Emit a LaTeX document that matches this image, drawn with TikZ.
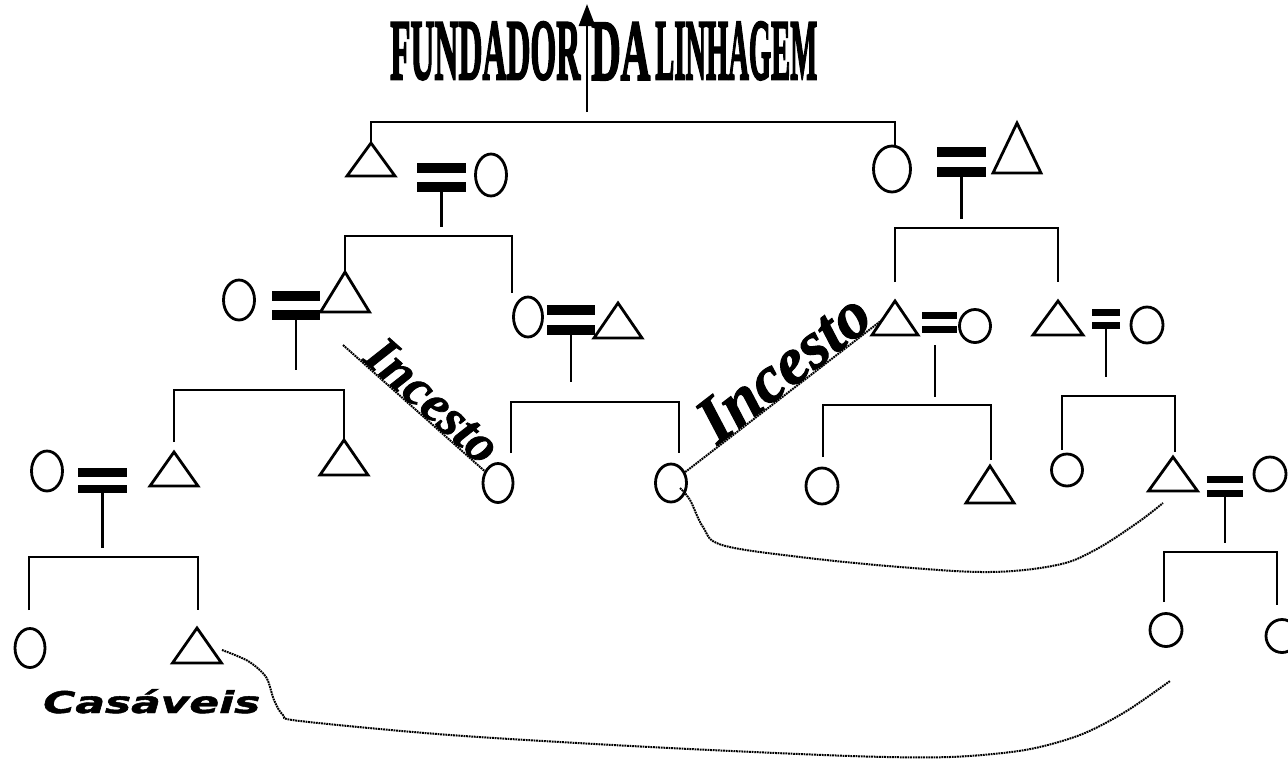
\documentclass[tikz,border=0pt]{standalone}
\usepackage{fontspec}
\usepackage{graphicx}
\setmainfont{Liberation Serif}
\newfontfamily\titlefont{Liberation Serif}[BoldFeatures={FakeBold=3}]
\newfontfamily\incfont{Liberation Serif}[BoldItalicFeatures={FakeBold=1.5}]
\newfontfamily\casfont{DejaVu Sans}[BoldItalicFeatures={FakeBold=1.5}]
\usetikzlibrary{shapes.geometric,arrows.meta}
\tikzset{
  ln/.style={line width=2.8pt},
  circ/.style={ellipse, draw, line width=2.8pt, inner sep=0pt},
  bar/.style={rectangle, fill=black, draw=none, inner sep=0pt},
  dots/.style={line width=2pt, dash pattern=on 1.8pt off 0.8pt},
}
\newcommand\kinTri[4]{\coordinate (#1) at (#2);
  \draw[ln, line join=miter] (#1) -- ++({#3/2},#4) -- ++(-#3,0) -- cycle;}
\newcommand\kinEq[7]{%
  \node[bar, minimum width={#3-#2}, minimum height={#5-#4}] (#1a) at ({(#2+#3)/2},{(#4+#5)/2}) {};
  \node[bar, minimum width={#3-#2}, minimum height={#7-#6}] (#1b) at ({(#2+#3)/2},{(#6+#7)/2}) {};}
\begin{document}
\begin{tikzpicture}[x=1pt,y=-1pt]
\useasboundingbox (0,0) rectangle (1288,769);
\clip (0,0) rectangle (1288,769);
% ---------- title
\node[anchor=south west, inner sep=0pt] (ti1) at (390,80) {\resizebox{190pt}{57pt}{\titlefont\bfseries FUNDADOR}};
\node[anchor=south west, inner sep=0pt] (ti2) at (591,80) {\resizebox{59pt}{57pt}{\titlefont\bfseries DA}};
\node[anchor=south west, inner sep=0pt] (ti3) at (655,80) {\resizebox{162pt}{57pt}{\titlefont\bfseries LINHAGEM}};
\coordinate (ab) at (587,112);
\coordinate (at) at (587,4);
\draw[ln, -{Triangle[width=16pt,length=22pt]}] (ab) -- (at);
% ---------- generation 1
\kinTri{tA}{371,143}{48}{33}
\kinEq{eA}{417}{466}{163}{173}{182}{192}
\node[circ, minimum width=31, minimum height=42] (cA) at (491,175) {};
\node[circ, minimum width=37, minimum height=46] (cB) at (892,169) {};
\kinEq{eB}{937}{986}{147}{157}{167}{177}
\kinTri{tB}{1017,123}{48}{50}
\coordinate (TL) at (371,122);
\coordinate (TR) at (895,122);
\draw[ln] (tA) -- (TL) -- (TR) -- (TR |- cB.north);
% ---------- generation 2
\kinTri{tC}{345,272}{49}{40}
\kinEq{eC}{272}{320}{291}{301}{310}{320}
\node[circ, minimum width=31, minimum height=40] (cC) at (239,300) {};
\node[circ, minimum width=29, minimum height=40] (cD) at (528,317) {};
\kinEq{eD}{547}{595}{305}{315}{325}{335}
\kinTri{tD}{618,303}{48}{35}
\kinTri{tE}{895,301}{46}{34}
\kinEq{eE}{922}{957}{312}{319}{326}{333}
\node[circ, minimum width=31, minimum height=33] (cE) at (975,326) {};
\kinTri{tF}{1058,301}{50}{34}
\kinEq{eF}{1092}{1120}{309}{316}{322}{329}
\node[circ, minimum width=32, minimum height=36] (cF) at (1147,325) {};
% family A
\draw[ln] (eAb.south) -- ++(0,35) coordinate (vA);
\coordinate (AL) at (345,236);
\coordinate (AR) at (512,236);
\coordinate (dAR) at (512,293);
\draw[ln] (tC) -- (AL) -- (AR) -- (dAR);
% family B
\draw[ln] (eBb.south) -- ++(0,42) coordinate (vB);
\coordinate (BL) at (895,228);
\coordinate (BR) at (1058,228);
\coordinate (dBL) at (895,282);
\coordinate (dBR) at (1058,282);
\draw[ln] (dBL) -- (BL) -- (BR) -- (dBR);
% ---------- generation 3
\kinTri{tG}{174,452}{48}{34}
\kinEq{eG}{78}{127}{468}{477}{485}{493}
\node[circ, minimum width=31, minimum height=40] (cG) at (47,471) {};
\kinTri{tH}{344,440}{48}{35}
\node[circ, minimum width=30, minimum height=39] (cI) at (498,483) {};
\node[circ, minimum width=31, minimum height=38] (cJ) at (671,483) {};
\node[circ, minimum width=32, minimum height=36] (cK) at (822,486) {};
\kinTri{tL}{990,466}{48}{37}
\node[circ, minimum width=31, minimum height=32] (cM) at (1067,470) {};
\kinTri{tN}{1173,457}{49}{34}
\kinEq{eN}{1207}{1243}{476}{483}{490}{497}
\node[circ, minimum width=32, minimum height=34] (cN) at (1270,474) {};
% family C
\draw[ln] (eCb.south) -- ++(0,50) coordinate (vC);
\coordinate (CL) at (174,390);
\coordinate (CR) at (344,390);
\coordinate (dCL) at (174,442);
\draw[ln] (dCL) -- (CL) -- (CR) -- (tH);
% family D
\draw[ln] (eDb.south) -- ++(0,47) coordinate (vD);
\coordinate (DL) at (511,402);
\coordinate (DR) at (679,402);
\coordinate (dDL) at (511,453);
\coordinate (dDR) at (679,453);
\draw[ln] (dDL) -- (DL) -- (DR) -- (dDR);
% family E
\coordinate (vEs) at (935,345);
\coordinate (vE) at (935,397);
\draw[ln] (vEs) -- (vE);
\coordinate (EL) at (823,405);
\coordinate (ER) at (991,405);
\coordinate (dEL) at (823,457);
\coordinate (dER) at (991,460);
\draw[ln] (dEL) -- (EL) -- (ER) -- (dER);
% family F
\draw[ln] (eFb.south) -- ++(0,48) coordinate (vF);
\coordinate (FL) at (1062,396);
\coordinate (FR) at (1175,396);
\coordinate (dFL) at (1062,450);
\coordinate (dFR) at (1175,452);
\draw[ln] (dFL) -- (FL) -- (FR) -- (dFR);
% ---------- generation 4
\node[circ, minimum width=30, minimum height=39] (cQ) at (30,648) {};
\kinTri{tR}{197,628}{49}{35}
\node[circ, minimum width=32, minimum height=33] (cO) at (1166,630) {};
\node[circ, minimum width=32, minimum height=33] (cP) at (1282,636) {};
% family G
\draw[ln] (eGb.south) -- ++(0,55) coordinate (vG);
\coordinate (GL) at (29,557);
\coordinate (GR) at (198,557);
\coordinate (dGL) at (29,610);
\coordinate (dGR) at (198,610);
\draw[ln] (dGL) -- (GL) -- (GR) -- (dGR);
% family N
\draw[ln] (eNb.south) -- ++(0,46) coordinate (vN);
\coordinate (NL) at (1164,552);
\coordinate (NR) at (1277,552);
\coordinate (dNL) at (1164,602);
\coordinate (dNR) at (1277,605);
\draw[ln] (dNL) -- (NL) -- (NR) -- (dNR);
% ---------- incest lines
\coordinate (i1a) at (343,345);
\draw[dots] (i1a) -- (cI);
\path (i1a) -- (cI) node[pos=0.55, sloped, above, inner sep=0.5pt] (inc1) {\resizebox{160pt}{!}{\incfont\bfseries\itshape Incesto}};
\coordinate (i2b) at (882,320);
\draw[dots] (cJ) -- (i2b);
\path (cJ) -- (i2b) node[pos=0.57, sloped, above, inner sep=0.5pt] (inc2) {\resizebox{200pt}{!}{\incfont\bfseries\itshape Incesto}};
% ---------- marriageable links
\coordinate (k1s) at (680,488);
\coordinate (k1e) at (1163,503);
\draw[dots] plot[smooth, tension=0.6] coordinates {(k1s) (690,500) (703,527) (722,545) (800,557) (900,567) (990,572) (1057,565) (1095,550) (1137,523) (k1e)};
\coordinate (k2s) at (222,650);
\coordinate (k2e) at (1170,681);
\draw[dots] plot[smooth, tension=0.5] coordinates {(k2s) (248,661) (266,677) (274,700) (283,715) (300,721) (450,735) (650,747) (850,756) (950,757) (1025,750) (1080,735) (1125,712) (k2e)};
\node[anchor=base west, inner sep=0pt] (cas) at (43,713) {\resizebox{217pt}{24pt}{\casfont\bfseries\itshape Casáveis}};
\end{tikzpicture}
\end{document}
